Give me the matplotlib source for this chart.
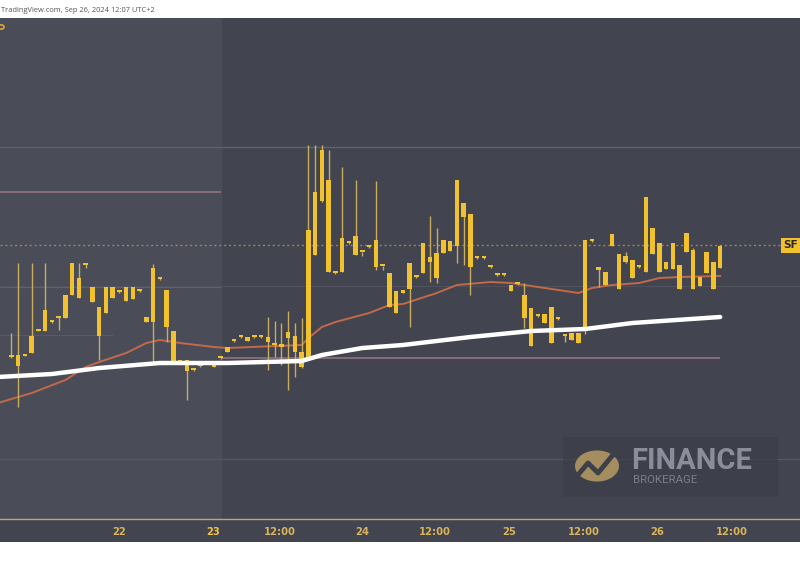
import matplotlib
matplotlib.use("Agg")
import matplotlib.pyplot as plt
from matplotlib.patches import Rectangle, Circle
import numpy as np

# ---------------- data ----------------
idx = [-1, 1, 2, 3, 4, 5, 6, 7, 8, 9, 10, 11, 12, 13, 14, 15, 16, 17, 18, 19, 20,
       21, 22, 23, 24, 25, 26, 27, 28, 29, 31, 32, 33, 34, 35, 36, 37, 38, 39, 40,
       41, 42, 43, 44, 45, 46, 47, 48, 49, 50, 51, 52, 53, 54, 55, 56, 57, 58, 59,
       60, 61, 62, 63, 64, 65, 66, 67, 68, 69, 70, 71, 72, 73, 74, 75, 76, 77, 78,
       79, 80, 81, 82, 83, 84, 85, 86, 87, 88, 89, 90, 91, 92, 93, 94, 95, 96, 97,
       98, 99, 100, 101, 102, 103, 104, 105, 106]
opens = [31.33, 31.45, 31.45, 31.44, 31.47, 31.69, 31.69, 31.78, 31.82, 31.82, 32.05,
         32.22, 32.37, 32.13, 31.93, 31.87, 32.02, 32.08, 31.99, 32.13, 32.09, 31.83,
         31.78, 32.21, 32.10, 31.69, 31.37, 31.40, 31.30, 31.34, 31.33, 31.42, 31.48,
         31.59, 31.63, 31.59, 31.63, 31.63, 31.63, 31.55, 31.53, 31.62, 31.64, 31.48,
         31.40, 32.45, 32.99, 33.20, 32.27, 32.28, 32.57, 32.64, 32.48, 32.53, 32.60,
         32.34, 32.27, 32.09, 32.07, 32.11, 32.23, 32.27, 32.43, 32.22, 32.47, 32.59,
         32.54, 32.97, 32.86, 32.42, 32.42, 32.33, 32.25, 32.25, 32.15, 32.16, 32.05,
         31.92, 31.84, 31.77, 31.93, 31.81, 31.64, 31.67, 31.67, 31.70, 32.59, 32.30,
         32.28, 32.54, 32.46, 32.38, 32.40, 32.33, 32.28, 32.72, 32.57, 32.31, 32.31,
         32.35, 32.48, 32.50, 32.14, 32.27, 32.38, 32.32]
highs = [31.63, 31.67, 32.37, 31.46, 32.37, 31.70, 32.37, 31.79, 31.84, 32.05, 32.37,
         32.37, 32.37, 32.13, 31.93, 32.13, 32.13, 32.09, 32.13, 32.13, 32.10, 31.83,
         32.36, 32.22, 32.10, 31.69, 31.40, 31.40, 31.31, 31.35, 31.38, 31.43, 31.53,
         31.60, 31.64, 31.63, 31.64, 31.64, 31.83, 31.79, 31.77, 31.89, 31.77, 31.82,
         33.55, 33.55, 33.55, 33.50, 32.28, 33.33, 32.58, 33.20, 32.48, 32.54, 33.19,
         32.34, 32.27, 32.09, 32.10, 32.37, 32.24, 32.57, 32.84, 32.72, 32.60, 32.59,
         33.20, 32.97, 32.86, 32.43, 32.43, 32.34, 32.26, 32.26, 32.15, 32.17, 32.17,
         31.92, 31.85, 31.86, 31.93, 31.82, 31.66, 31.67, 31.67, 32.60, 32.60, 32.33,
         32.28, 32.66, 32.46, 32.48, 32.40, 32.34, 33.03, 32.72, 32.57, 32.38, 32.57,
         32.35, 32.67, 32.52, 32.23, 32.48, 32.38, 32.55]
lows = [31.33, 31.42, 30.93, 31.44, 31.47, 31.69, 31.69, 31.77, 31.70, 31.82, 32.05,
        32.02, 32.32, 31.98, 31.40, 31.87, 32.02, 32.07, 31.99, 32.01, 32.08, 31.78,
        31.37, 32.20, 31.58, 31.37, 31.37, 31.00, 31.29, 31.33, 31.33, 31.41, 31.48,
        31.58, 31.62, 31.59, 31.62, 31.62, 31.30, 31.43, 31.35, 31.10, 31.23, 31.32,
        31.40, 32.45, 32.98, 32.28, 32.26, 32.28, 32.56, 32.45, 32.44, 32.52, 32.30,
        32.30, 31.93, 31.87, 32.07, 31.73, 32.22, 32.27, 32.18, 32.17, 32.47, 32.49,
        32.37, 32.35, 32.05, 32.41, 32.41, 32.32, 32.24, 32.24, 32.09, 32.15, 31.72,
        31.54, 31.83, 31.77, 31.57, 31.80, 31.58, 31.60, 31.57, 31.66, 32.58, 32.13,
        32.15, 32.54, 32.11, 32.37, 32.22, 32.32, 32.28, 32.46, 32.28, 32.31, 32.31,
        32.11, 32.48, 32.11, 32.14, 32.27, 32.11, 32.32]
closes = [31.63, 31.43, 31.34, 31.45, 31.64, 31.70, 31.90, 31.78, 31.84, 32.05, 32.37,
          32.02, 32.35, 31.98, 31.64, 32.13, 32.13, 32.08, 32.13, 32.01, 32.09, 31.78,
          32.32, 32.21, 31.73, 31.37, 31.40, 31.29, 31.30, 31.34, 31.38, 31.42, 31.53,
          31.59, 31.63, 31.63, 31.63, 31.63, 31.58, 31.55, 31.56, 31.68, 31.48, 31.33,
          32.70, 33.08, 33.50, 32.28, 32.27, 32.62, 32.57, 32.45, 32.48, 32.53, 32.33,
          32.34, 31.93, 31.87, 32.10, 32.37, 32.23, 32.57, 32.38, 32.47, 32.60, 32.49,
          33.20, 32.83, 32.33, 32.42, 32.42, 32.33, 32.25, 32.25, 32.09, 32.16, 31.82,
          31.54, 31.84, 31.86, 31.57, 31.81, 31.66, 31.60, 31.57, 32.60, 32.59, 32.33,
          32.15, 32.66, 32.11, 32.44, 32.22, 32.33, 33.03, 32.46, 32.28, 32.38, 32.57,
          32.11, 32.67, 32.11, 32.23, 32.48, 32.11, 32.54]

# moving averages (read at selected candles)
white_idx = [-1, 7, 14, 23, 33, 44, 47, 53, 59, 69, 78, 86, 93, 106]
white_ma = [31.23, 31.26, 31.32, 31.37, 31.37, 31.39, 31.45, 31.52, 31.55, 31.63,
            31.69, 31.71, 31.77, 31.83]
orange_idx = [-1, 4, 9, 12, 14, 18, 21, 23, 26, 31, 33, 44, 45, 47, 49, 54, 57, 59,
              64, 67, 72, 75, 79, 85, 87, 90, 94, 97, 100, 106]
orange_ma = [30.97, 31.07, 31.20, 31.33, 31.38, 31.47, 31.57, 31.60, 31.57, 31.53,
             31.52, 31.55, 31.62, 31.73, 31.78, 31.87, 31.95, 31.96, 32.07, 32.15,
             32.18, 32.17, 32.13, 32.07, 32.12, 32.15, 32.17, 32.22, 32.23, 32.24]

last_price = 32.55
tick_pos = [16.93, 30.86, 40.79, 52.93, 63.75, 74.71, 85.82, 96.64, 107.75]
tick_labels = ["22", "23", "12:00", "24", "12:00", "25", "12:00", "26", "12:00"]

# ---------------- styling ----------------
W, H = 800, 566
BG = "#42444f"
BG_LIGHT = "#4a4c58"
GOLD = "#f2c12e"
WICK = "#c9ad5e"
AXGOLD = "#c8a95a"
LABEL = "#d9b45a"

fig = plt.figure(figsize=(W / 100, H / 100), dpi=100)
fig.patch.set_facecolor("white")

top_px, bot_px = 18, 519
ax = fig.add_axes([0, 1 - bot_px / H, 1, (bot_px - top_px) / H])
ax.set_facecolor(BG)
x_left = (0 - 4.7) / 6.75
x_right = (800 - 4.7) / 6.75
ax.set_xlim(x_left, x_right)
ax.set_ylim(35 - bot_px / 100, 35 - top_px / 100)

# lighter left region
ax.axvspan(x_left, 32.2, color=BG_LIGHT, lw=0, zorder=0)

# horizontal lines
ax.axhline(33.53, color="#5e606e", lw=1.0, zorder=1)
ax.axhline(32.14, color="#50525e", lw=0.8, zorder=1)
ax.axhline(30.41, color="#555764", lw=0.9, zorder=1)
ax.hlines(32.13, x_left, 32.0, color="#5e606c", lw=0.9, zorder=1)
ax.hlines(31.65, x_left, 16.0, color="#575966", lw=0.8, zorder=1)
ax.hlines(33.08, x_left, 32.0, color="#8a6f7c", lw=1.3, zorder=1)
ax.hlines(31.42, 32.0, 106.0, color="#8a6f7c", lw=1.3, zorder=1)
ax.axhline(last_price, color="#a0805e", lw=1.0, ls=(0, (1.5, 2)), zorder=1)

# moving averages
ax.plot(orange_idx, orange_ma, color="#c2694a", lw=1.4, zorder=2)
ax.plot(white_idx, white_ma, color="white", lw=3.2, zorder=4, solid_capstyle="round")

# candles
o = np.array(opens); c = np.array(closes)
hi = np.array(highs); lo = np.array(lows)
ax.vlines(idx, lo, hi, color=WICK, lw=1.0, zorder=3)
bottom = np.minimum(o, c)
height = np.maximum(np.abs(c - o), 0.016)
ax.bar(idx, height, bottom=bottom, width=0.66, color=GOLD, lw=0, zorder=3)

# x ticks
ax.set_xticks(tick_pos)
ax.set_xticklabels(tick_labels)
for lab in ax.get_xticklabels():
    lab.set_color(LABEL)
    lab.set_fontsize(7.2)
    lab.set_fontweight("bold")
ax.get_xticklabels()[1].set_color("#f0c24a")
ax.tick_params(axis="x", length=0, pad=5.5)
ax.set_yticks([])
for s in ["top", "left", "right"]:
    ax.spines[s].set_visible(False)
ax.spines["bottom"].set_color(AXGOLD)
ax.spines["bottom"].set_linewidth(1.0)

# SF label (fits inside the right edge)
fig.text(798.5 / W, 1 - 245.5 / H, "SF", color="#2a2a2a", fontsize=7.6, fontweight="bold",
         ha="right", va="center", zorder=8,
         bbox=dict(boxstyle="square,pad=0.25", fc=GOLD, ec="none"))

# axis band
fig.patches.append(Rectangle((0, (H - 542) / H), 1, (542 - bot_px) / H,
                             transform=fig.transFigure, fc=BG, ec="none", zorder=-1))

# top strip text
fig.text(1 / W, 1 - 10 / H, "TradingView.com, Sep 26, 2024 12:07 UTC+2",
         fontsize=5.4, color="#555555", va="center", ha="left", family="Open Sans")
# small gold marker at top-left of the pane
fig.patches.append(Circle((1 / W, 1 - 27 / H), 3 / W, transform=fig.transFigure,
                          fc="none", ec="#d9a83a", lw=1.2, zorder=8))


def fx(px):
    return px / W


def fy(py):
    return 1 - py / H


# watermark
fig.patches.append(Rectangle((fx(563), fy(497)), fx(778) - fx(563), (497 - 437) / H,
                             transform=fig.transFigure, fc="#3c3e49", ec="none",
                             alpha=0.75, zorder=5))
fig.patches.append(Circle((fx(597), fy(466)), 22 / W, transform=fig.transFigure,
                          fc="#a48d5e", ec="none", zorder=6))
fig.lines.append(plt.Line2D([fx(577), fx(588), fx(598), fx(612), fx(618)],
                            [fy(476), fy(463), fy(473), fy(456), fy(452)],
                            transform=fig.transFigure, color="#3e4049", lw=3.5, zorder=7))
fig.text(fx(631), fy(461), "FINANCE", fontsize=21, fontweight="bold", color="#8b8e9a",
         family="Roboto", va="center", ha="left", zorder=7)
fig.text(fx(633), fy(480), "BROKERAGE", fontsize=8.2, color="#7b7e8a",
         family="Roboto", va="center", ha="left", zorder=7)

fig.savefig("out.png", dpi=100, facecolor=fig.get_facecolor())
